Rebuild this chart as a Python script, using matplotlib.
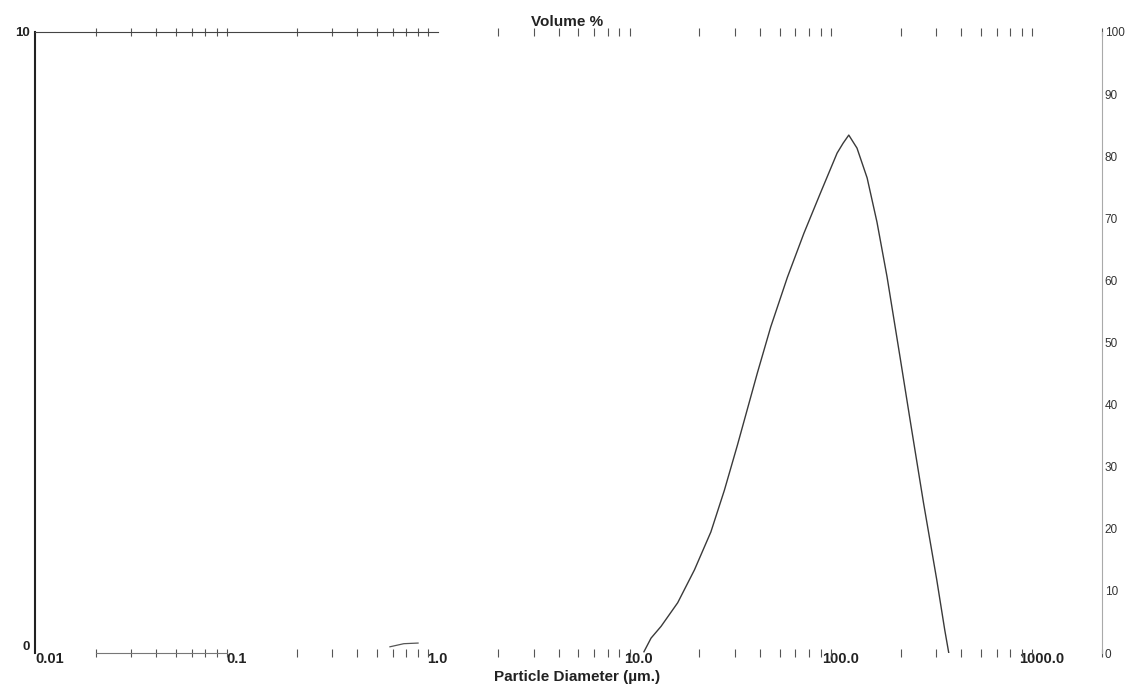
import matplotlib
matplotlib.use("Agg")
import matplotlib.pyplot as plt
from matplotlib.ticker import FixedLocator, LogLocator, NullFormatter

plt.rcParams["font.family"] = ["Liberation Sans", "DejaVu Sans"]

# particle size distribution (volume %)
size_um = [10.6, 11.0, 11.5, 12.9, 15.6, 18.9, 22.8, 26.6, 30.9, 38.8, 45.2, 54.7,
           66.1, 79.9, 96.6, 103.5, 110.4, 121.3, 136.2, 152.4, 171.0, 198.8,
           222.7, 259.5, 302.0, 331.0, 346.6]
volume_pct = [0.02, 0.12, 0.24, 0.43, 0.81, 1.34, 1.95, 2.62, 3.35, 4.51, 5.25, 6.05,
              6.76, 7.41, 8.05, 8.21, 8.34, 8.13, 7.65, 6.94, 6.06, 4.75,
              3.75, 2.42, 1.18, 0.37, 0.0]

# small fragment near 0.6-0.8 um
frag_um = [0.58, 0.68, 0.80]
frag_pct = [0.10, 0.15, 0.16]

x_ticks = [0.01, 0.1, 1, 10, 100, 1000]
x_labels = ["0.01", "0.1", "1.0", "10.0", "100.0", "1000.0"]
left_ticks = [0, 10]
right_ticks = list(range(0, 101, 10))

W, H = 1131, 687
fig = plt.figure(figsize=(W / 100, H / 100), dpi=100)
ax = fig.add_axes([35 / W, 1 - 653 / H, (1102 - 35) / W, (653 - 32) / H])

ax.set_xscale("log")
ax.set_xlim(0.01, 2000)
ax.set_ylim(0, 10)

ax.plot(size_um, volume_pct, color="#3a3a3a", lw=1.0, solid_joinstyle="round")
ax.plot(frag_um, frag_pct, color="#555555", lw=0.9)

# x axis: labels sit on the baseline, minor ticks cross the top/bottom lines
ax.xaxis.set_major_locator(FixedLocator(x_ticks))
ax.set_xticklabels(x_labels, fontweight="bold")
ax.xaxis.set_minor_locator(LogLocator(base=10, subs=range(2, 10), numticks=20))
ax.xaxis.set_minor_formatter(NullFormatter())
ax.tick_params(axis="x", which="major", length=0, pad=-1, labelsize=10.5, labelcolor="#222222")
ax.tick_params(axis="x", which="minor", direction="inout", length=6, width=0.8,
               color="#555555", top=True, bottom=True)
ax.get_xticklabels()[0].set_horizontalalignment("left")

ax.set_yticks(left_ticks)
ax.set_yticklabels([str(v) for v in left_ticks], fontweight="bold")
ax.tick_params(axis="y", length=0, pad=4, labelsize=9.5, labelcolor="#222222")
ax.get_yticklabels()[0].set_verticalalignment("bottom")

ax.spines["left"].set_linewidth(1.5)
ax.spines["left"].set_color("#222222")
ax.spines["top"].set_bounds(0.01, 1.0)
ax.spines["top"].set_color("#444444")
ax.spines["top"].set_linewidth(0.8)
ax.spines["bottom"].set_bounds(0.02, 0.09)
ax.spines["bottom"].set_color("#777777")
ax.spines["bottom"].set_linewidth(0.8)
ax.spines["right"].set_visible(False)

ax2 = ax.twinx()
ax2.set_ylim(0, 100)
ax2.set_yticks(right_ticks)
ax2.set_yticklabels([str(v) for v in right_ticks])
ax2.tick_params(axis="y", length=0, pad=2, labelsize=8.5, labelcolor="#333333")
for side in ["left", "top", "bottom"]:
    ax2.spines[side].set_visible(False)
ax2.spines["right"].set_color("#aaaaaa")
ax2.spines["right"].set_linewidth(0.8)

fig.text(567 / W, 1 - 22 / H, "Volume %", ha="center", va="center", fontsize=11,
         fontweight="bold", color="#222222")
fig.text(577 / W, 1 - 677 / H, "Particle Diameter (\u00b5m.)", ha="center", va="center",
         fontsize=11, fontweight="bold", color="#222222")

fig.savefig("out.png", dpi=100)
